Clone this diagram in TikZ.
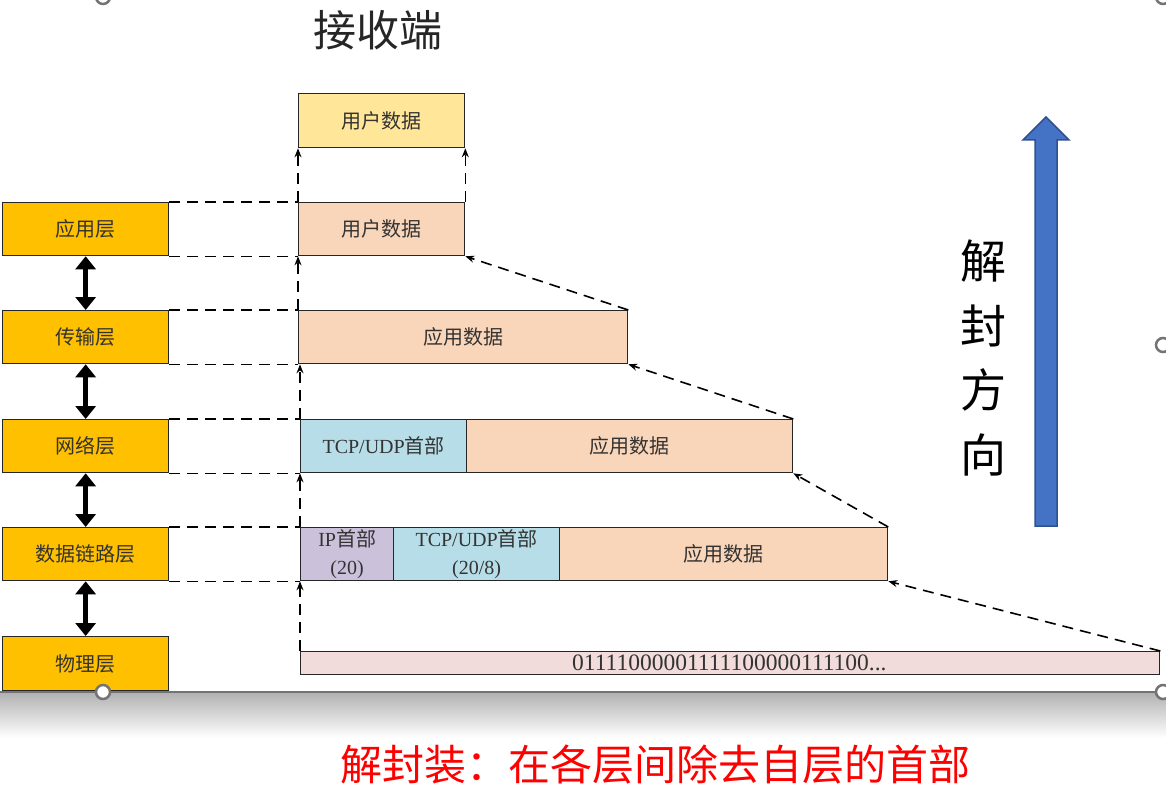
\documentclass[tikz,border=0pt]{standalone}
\usepackage{fontspec}
\setmainfont{Liberation Serif}
\newfontfamily\cjk{Noto Sans CJK SC}
\usetikzlibrary{arrows.meta}
\definecolor{layerc}{HTML}{FFC000}
\definecolor{userc}{HTML}{FFE699}
\definecolor{peach}{HTML}{F9D5B9}
\definecolor{tcpc}{HTML}{B7DEE8}
\definecolor{ipc}{HTML}{CCC1DA}
\definecolor{bitc}{HTML}{F2DCDB}
\definecolor{bluef}{HTML}{4472C4}
\definecolor{blued}{HTML}{2F528F}
\definecolor{txt}{HTML}{333333}
\tikzset{
  box/.style={draw=black!85, line width=1.3pt, inner sep=0pt, anchor=north west,
    minimum height=53pt, text=txt, font=\fontsize{20}{28}\selectfont, align=center},
  layer/.style={box, fill=layerc, minimum width=166pt},
  guide/.style={dash pattern=on 11pt off 7pt, line width=1.6pt, black},
  garrow/.style={guide, -{Stealth[length=9pt,width=7pt]}},
  dbl/.style={line width=5pt, {Triangle[width=20pt,length=13pt]}-{Triangle[width=20pt,length=13pt]}},
  handle/.style={draw=black!55, fill=white, line width=2.5pt}
}
\begin{document}
\begin{tikzpicture}[x=1pt,y=-1pt]
\useasboundingbox (0,0) rectangle (1166,802);
% screenshot frame
\shade[top color=black!30, bottom color=white] (0,693) rectangle (1166,738);
\draw[black!55, line width=1.5pt] (0,692) -- (1166,692);
% layers
\node[layer] (L1) at (2,202) {\cjk 应用层};
\node[layer] (L2) at (2,310) {\cjk 传输层};
\node[layer] (L3) at (2,419) {\cjk 网络层};
\node[layer] (L4) at (2,527) {\cjk 数据链路层};
\node[layer, minimum height=54pt] (L5) at (2,636) {\cjk 物理层};
\draw[dbl] (L1.south) -- (L2.north);
\draw[dbl] (L2.south) -- (L3.north);
\draw[dbl] (L3.south) -- (L4.north);
\draw[dbl] (L4.south) -- (L5.north);
% packets
\node[box, fill=userc, minimum width=166pt, minimum height=54pt] (U0) at (298,93) {\cjk 用户数据};
\node[box, fill=peach, minimum width=166pt] (U1) at (298,202) {\cjk 用户数据};
\node[box, fill=peach, minimum width=329pt] (T1) at (298,310) {\cjk 应用数据};
\node[box, fill=tcpc, minimum width=166pt] (N1) at (300,419) {TCP/UDP{\cjk 首部}};
\node[box, fill=peach, minimum width=326pt] (N2) at (466,419) {\cjk 应用数据};
\node[box, fill=ipc, minimum width=93pt] (D1) at (300,527) {IP{\cjk 首部}\\(20)};
\node[box, fill=tcpc, minimum width=166pt] (D2) at (393,527) {TCP/UDP{\cjk 首部}\\(20/8)};
\node[box, fill=peach, minimum width=328pt] (D3) at (559,527) {\cjk 应用数据};
\node[box, fill=bitc, minimum width=859pt, minimum height=23pt] (P) at (300,651) {};
\node[text=txt, font=\fontsize{23.5}{24}\selectfont, anchor=west, inner sep=0pt] (bits) at (572,663) {01111000001111100000111100...};
% horizontal guides
\draw[guide] (L1.north east) -- (U1.north west);
\draw[guide] (L1.south east) -- (U1.south west);
\draw[guide] (L2.north east) -- (T1.north west);
\draw[guide] (L2.south east) -- (T1.south west);
\draw[guide] (L3.north east) -- (N1.north west);
\draw[guide] (L3.south east) -- (N1.south west);
\draw[guide] (L4.north east) -- (D1.north west);
\draw[guide] (L4.south east) -- (D1.south west);
% vertical arrows
\draw[garrow] (U1.north west) -- (U0.south west);
\draw[garrow] (U1.north east) -- (U0.south east);
\draw[garrow] (T1.north west) -- (U1.south west);
\draw[garrow] (N1.north west) -- (N1.north west |- T1.south);
\draw[garrow] (D1.north west) -- (N1.south west);
\draw[garrow] (P.north west) -- (D1.south west);
% diagonal arrows
\draw[garrow] (T1.north east) -- (U1.south east);
\draw[garrow] (N2.north east) -- (T1.south east);
\draw[garrow] (D3.north east) -- (N2.south east);
\draw[garrow] (P.north east) -- (D3.south east);
% titles
\node[font=\cjk\fontsize{43}{44}\selectfont, text=black!85] (title) at (378,30) {接收端};
% big blue arrow
\draw[fill=bluef, draw=blued, line width=1.5pt, line join=miter]
  (1035,526) -- (1035,140) -- (1023,140) -- (1046,117) -- (1069,140) -- (1057,140) -- (1057,526) -- cycle;
\node[font=\cjk\fontsize{46}{64.5}\selectfont, align=center] (dir) at (983,358) {解\\封\\方\\向};
\node[font=\cjk\fontsize{42}{44}\selectfont, text=red] (caption) at (655,765) {解封装：在各层间除去自层的首部};
% selection handles
\draw[handle] (103,692) circle (7);
\draw[handle] (1163,692) circle (7);
\draw[handle] (1163,345) circle (7);
\draw[handle] (103,-3) circle (7);
\draw[handle] (1163,-3) circle (7);
\end{tikzpicture}
\end{document}
